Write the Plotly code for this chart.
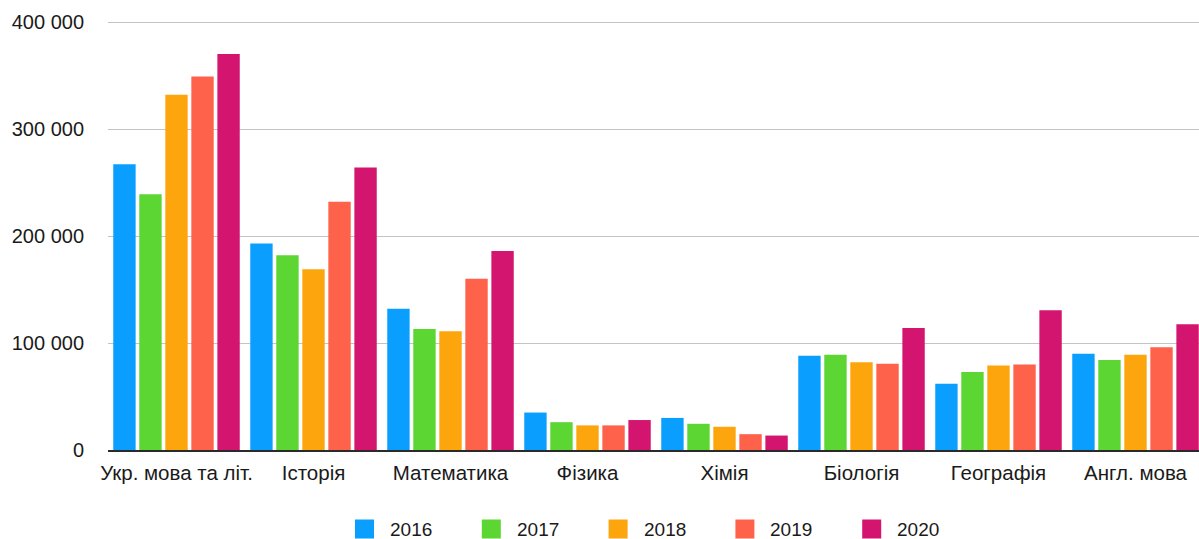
import plotly.graph_objects as go

# Subjects (x categories)
subjects = ["Укр. мова та літ.", "Історія", "Математика", "Фізика",
            "Хімія", "Біологія", "Географія", "Англ. мова"]

years = ["2016", "2017", "2018", "2019", "2020"]

# Number of participants per subject, one list per year
v2016 = [267000, 193000, 132000, 35000, 30000, 88000, 62000, 90000]
v2017 = [239000, 182000, 113000, 26000, 24500, 89000, 73000, 84000]
v2018 = [332000, 169000, 111000, 23000, 21700, 82000, 79000, 89000]
v2019 = [349000, 232000, 160000, 23000, 14800, 80500, 80000, 96000]
v2020 = [370000, 264000, 186000, 28000, 13500, 114000, 130500, 117500]

series = [v2016, v2017, v2018, v2019, v2020]
colors = ["#0A9FFF", "#5CD632", "#FCA50C", "#FF624B", "#D4156F"]

y_tickvals = [0, 100000, 200000, 300000, 400000]
y_ticktext = ["0", "100 000", "200 000", "300 000", "400 000"]

FONT = "Liberation Sans, Arial, Helvetica, sans-serif"

W, H = 1199, 539
ML, MR, MT, MB = 108, 0, 18, 89
plot_w = W - ML - MR
plot_h = H - MT - MB

fig = go.Figure()
for name, vals, col in zip(years, series, colors):
    fig.add_trace(go.Bar(
        x=subjects, y=vals, name=name,
        marker=dict(color=col, line=dict(width=0)),
        showlegend=False,
    ))

# Legend drawn as coloured squares with year labels below the plot
legend_px_left = 355
legend_step = 126.8
legend_cy = 529
sq = 19
for i, (name, col) in enumerate(zip(years, colors)):
    x0 = legend_px_left + legend_step * i
    fig.add_shape(
        type="rect", xref="paper", yref="paper",
        x0=(x0 - ML) / plot_w, x1=(x0 + sq - ML) / plot_w,
        y0=(H - MB - (legend_cy + sq / 2)) / plot_h,
        y1=(H - MB - (legend_cy - sq / 2)) / plot_h,
        fillcolor=col, line=dict(width=0),
    )
    fig.add_annotation(
        xref="paper", yref="paper",
        x=(x0 + sq + 14 - ML) / plot_w,
        y=(H - MB - legend_cy) / plot_h,
        xanchor="left", yanchor="middle",
        text=name, showarrow=False,
        font=dict(family=FONT, size=19, color="#1a1a1a"),
    )

fig.update_layout(
    width=W, height=H,
    margin=dict(l=ML, r=MR, t=MT, b=MB, pad=0),
    paper_bgcolor="white", plot_bgcolor="white",
    barmode="group", bargap=0.05, bargroupgap=0.14,
    font=dict(family=FONT, size=19, color="#1a1a1a"),
)
fig.update_xaxes(
    range=[-0.5, -0.5 + plot_w / 137.0],
    showgrid=False, showline=True, linecolor="#2a2a2a", linewidth=2,
    ticks="", tickfont=dict(family=FONT, size=20.5, color="#1a1a1a"),
    ticklabelstandoff=3,
)
fig.update_yaxes(
    range=[0, 400000 * plot_h / 428.0],
    tickvals=y_tickvals, ticktext=y_ticktext,
    showgrid=True, gridcolor="#c4c4c4", gridwidth=1,
    zeroline=False, showline=False, ticks="",
    tickfont=dict(family=FONT, size=20, color="#1a1a1a"),
    ticklabelstandoff=23,
)

fig.write_html("out.html")
